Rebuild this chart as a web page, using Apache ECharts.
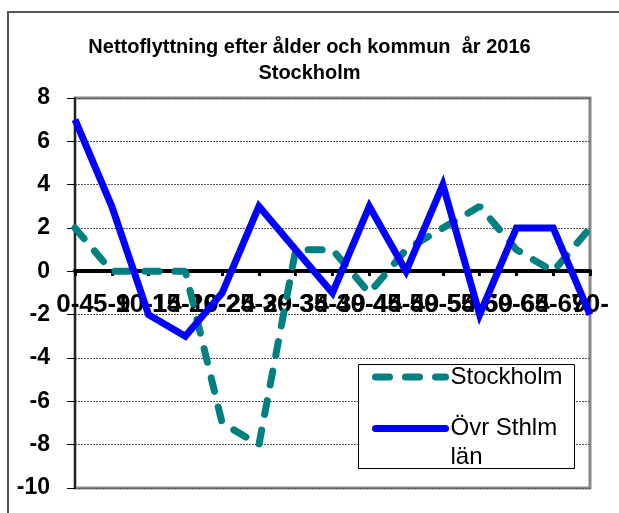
<!DOCTYPE html>
<html>
<head>
<meta charset="utf-8">
<script src="https://cdn.jsdelivr.net/npm/echarts@6/dist/echarts.min.js"></script>
<style>
  html, body { margin: 0; padding: 0; background: #fff; }
  #chart { width: 619px; height: 513px; }
</style>
</head>
<body>
<div id="chart"></div>
<script>
// åldersgrupper
var ages = ['0-4', '5-9', '10-14', '15-19', '20-24', '25-29', '30-34', '35-39',
            '40-44', '45-49', '50-54', '55-59', '60-64', '65-69', '70-'];
var stockholm = [2, 0, 0, 0, -7, -8, 1, 1, -1, 1, 2, 3, 1, 0, 2];
var ovrSthlmLan = [7, 3, -2, -3, -1, 3, 1, -1, 3, 0, 4, -2, 2, 2, -2];
var yTicks = { min: -10, max: 8, interval: 2 };

var font = '"Liberation Sans", Arial, sans-serif';

var myChart = echarts.init(document.getElementById('chart'));
myChart.setOption({
    animation: false,
    backgroundColor: '#fff',
    title: {
        text: 'Nettoflyttning efter ålder och kommun  år 2016\nStockholm',
        left: 'center',
        top: 29,
        textStyle: {
            fontFamily: font,
            fontSize: 20,
            fontWeight: 'bold',
            color: '#000',
            lineHeight: 26
        }
    },
    graphic: [{
        type: 'rect',
        shape: { x: 8, y: 12, width: 700, height: 600 },
        style: { fill: 'none', stroke: '#555', lineWidth: 2 },
        silent: true
    }, {
        // legend frame
        type: 'rect',
        z: 9,
        shape: { x: 358.5, y: 364.5, width: 216, height: 104 },
        style: { fill: '#fff', stroke: '#000', lineWidth: 1 },
        silent: true
    }],
    grid: {
        left: 75,
        right: 29,
        top: 98,
        bottom: 25,
        show: true,
        borderColor: '#888',
        borderWidth: 3
    },
    legend: [{
        left: 372,
        top: 363,
        padding: 0,
        z: 10,
        itemWidth: 70,
        itemHeight: 16,
        itemStyle: { opacity: 0 },
        lineStyle: { width: 7, cap: 'round' },
        textStyle: { fontFamily: font, fontSize: 24, color: '#000', lineHeight: 28 },
        data: ['Stockholm']
    }, {
        left: 372,
        top: 385,
        padding: 0,
        z: 10,
        itemWidth: 70,
        itemHeight: 16,
        itemStyle: { opacity: 0 },
        lineStyle: { width: 7, cap: 'round' },
        textStyle: { fontFamily: font, fontSize: 24, color: '#000', lineHeight: 29 },
        formatter: function (name) {
            // blank first line keeps the icon level with "Övr Sthlm"
            return name === 'Övr Sthlm län' ? '\u00a0\nÖvr Sthlm\nlän' : name;
        },
        data: ['Övr Sthlm län']
    }],
    xAxis: {
        type: 'category',
        data: ages,
        boundaryGap: false,
        position: 'bottom',
        offset: -217,
        axisLine: { onZero: false, lineStyle: { color: '#000', width: 4 } },
        axisTick: { show: true, length: 5, lineStyle: { color: '#000', width: 3 } },
        axisLabel: {
            interval: 0,
            margin: 21,
            fontFamily: font,
            fontSize: 26,
            fontWeight: 'bold',
            color: '#000'
        },
        splitLine: { show: false }
    },
    yAxis: {
        type: 'value',
        min: yTicks.min,
        max: yTicks.max,
        interval: yTicks.interval,
        axisLine: { show: true, lineStyle: { color: '#222', width: 2 } },
        axisTick: { show: true, length: 8, lineStyle: { color: '#000' } },
        axisLabel: {
            margin: 25,
            fontFamily: font,
            fontSize: 23,
            fontWeight: 'bold',
            color: '#000'
        },
        splitLine: { lineStyle: { color: '#555', type: [2, 1], width: 1 } }
    },
    series: [{
        name: 'Stockholm',
        type: 'line',
        data: stockholm,
        symbol: 'none',
        z: 3,
        lineStyle: { color: '#008080', width: 7, type: [14, 16], cap: 'round' },
        itemStyle: { color: '#008080' }
    }, {
        name: 'Övr Sthlm län',
        type: 'line',
        data: ovrSthlmLan,
        symbol: 'none',
        z: 4,
        lineStyle: { color: '#0000ff', width: 7, join: 'miter' },
        itemStyle: { color: '#0000ff' }
    }]
});
</script>
</body>
</html>
